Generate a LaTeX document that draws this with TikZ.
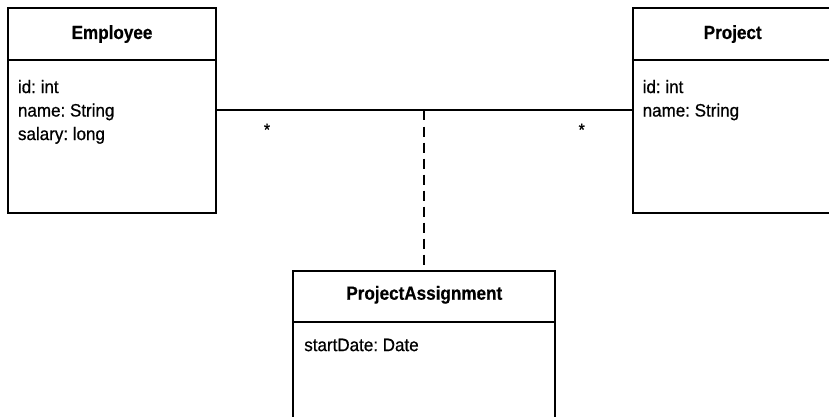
\documentclass[tikz,border=0pt]{standalone}
\usepackage{fontspec}
\setmainfont{Liberation Sans}
\newfontfamily\titlefont{Liberation Sans}[FakeStretch=0.9, FakeBold=0.6]
\newfontfamily\attrfont{Liberation Sans}[FakeStretch=0.945, FakeBold=0.7]
\usetikzlibrary{positioning}
\frenchspacing

\begin{document}
\begin{tikzpicture}[x=1pt, y=-1pt, line width=2pt,
  classbox/.style={draw, rectangle, inner sep=0pt, minimum height=205pt},
  classname/.style={anchor=base, inner sep=0pt, font=\titlefont\bfseries\fontsize{19}{23}\selectfont},
  classattr/.style={anchor=north west, inner sep=0pt, align=left, font=\attrfont\fontsize{18}{23.5}\selectfont},
  mult/.style={anchor=base, inner sep=0pt, font=\attrfont\fontsize{17}{20}\selectfont}]
\useasboundingbox (0,0) rectangle (829,417);
% classes
\node[classbox, minimum width=208pt] (emp) at (112,110.5) {};
\node[classbox, minimum width=200pt] (proj) at (732.7,110.5) {};
\node[classbox, minimum width=262pt] (pa) at (424.3,373.2) {};
% header lines
\draw ([yshift=-53pt]emp.north west) -- ([yshift=-53pt]emp.north east);
\draw ([yshift=-53pt]proj.north west) -- ([yshift=-53pt]proj.north east);
\draw ([yshift=-52.3pt]pa.north west) -- ([yshift=-52.3pt]pa.north east);
% names
\node[classname] (empname) at ([yshift=-32pt]emp.north) {Employee};
\node[classname] (projname) at ([yshift=-32pt]proj.north) {Project};
\node[classname] (paname) at ([yshift=-30pt]pa.north) {ProjectAssignment};
% attributes
\node[classattr] (empattr) at ([shift={(10pt,-72pt)}]emp.north west) {id: int\\name: String\\salary: long};
\node[classattr] (projattr) at ([shift={(10pt,-72pt)}]proj.north west) {id: int\\name: String};
\node[classattr] (paattr) at ([shift={(11pt,-68pt)}]pa.north west) {startDate: Date};
% association
\draw (emp.east) -- (proj.west);
\coordinate (link) at (pa.north |- emp.east);
\draw[dash pattern=on 10pt off 6pt, line width=2.2pt] (link) -- (pa.north);
\node[mult] (empmult) at ([shift={(50pt,-25pt)}]emp.east) {*};
\node[mult] (projmult) at ([shift={(-50pt,-25pt)}]proj.west) {*};
\end{tikzpicture}
\end{document}
